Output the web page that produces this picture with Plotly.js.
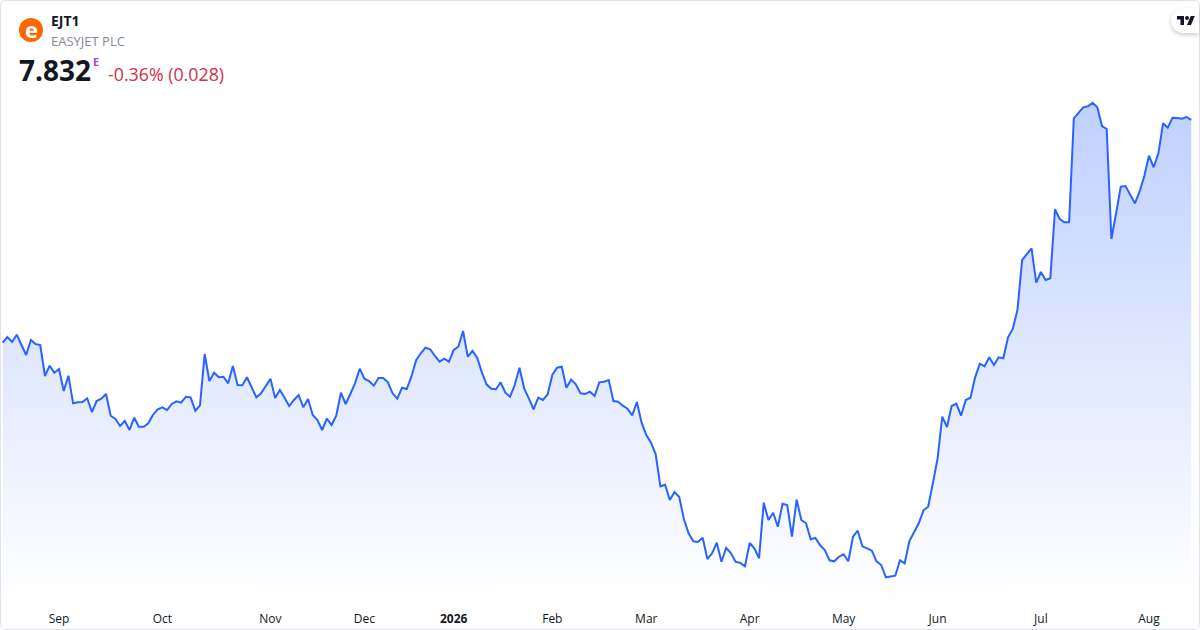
<!DOCTYPE html>
<html>
<head>
<meta charset="utf-8">
<script src="https://cdn.plot.ly/plotly-3.0.1.min.js"></script>
<style>
html,body{margin:0;padding:0;background:#fff;width:1200px;height:630px;overflow:hidden}
#chart{position:absolute;left:0;top:0;width:1200px;height:630px}
#card{position:absolute;left:0;top:0;width:1198px;height:628px;border:1px solid #e0e3eb;border-radius:6px;pointer-events:none}
#tv{position:absolute;left:1171px;top:8px;width:28px;height:25px;background:#fff;border-radius:12.5px 0 0 12.5px;box-shadow:0 2px 4px rgba(0,0,0,.2)}
#tv svg{position:absolute;left:6px;top:6px}
</style>
</head>
<body>
<div id="chart"></div>
<div id="card"></div>
<div id="tv"><svg width="18" height="14" viewBox="0 0 36 28"><path fill="#131722" d="M14 22H7V11H0V4h14v18zM28 22h-8l7.5-18h8L28 22z"/><circle fill="#131722" cx="20" cy="8" r="4"/></svg></div>
<script>
const closes = [
5.603,5.66,5.61,5.683,5.58,5.48,5.63,5.59,5.58,5.27,5.373,5.303,5.34,5.12,5.273,4.997,5.007,5.01,5.047,4.91,
5.02,5.043,5.09,4.873,4.84,4.77,4.82,4.73,4.853,4.763,4.763,4.797,4.883,4.937,4.957,4.93,4.99,5.017,5.003,5.063,
5.057,4.923,4.977,5.49,5.22,5.303,5.257,5.263,5.197,5.37,5.18,5.177,5.257,5.15,5.057,5.097,5.17,5.243,5.05,5.13,
5.053,4.97,5.03,5.08,4.957,5.04,4.88,4.83,4.73,4.843,4.78,4.873,5.103,4.99,5.09,5.197,5.343,5.243,5.22,5.173,
5.25,5.25,5.207,5.097,5.043,5.153,5.14,5.263,5.427,5.497,5.553,5.537,5.47,5.413,5.443,5.413,5.53,5.563,5.72,5.463,
5.52,5.453,5.307,5.187,5.143,5.137,5.207,5.103,5.063,5.18,5.353,5.147,5.047,4.937,5.053,5.03,5.087,5.28,5.353,5.363,
5.153,5.233,5.187,5.097,5.09,5.113,5.07,5.207,5.213,5.23,5.02,5.013,4.973,4.943,4.877,5.01,4.803,4.68,4.603,4.487,
4.167,4.183,4.03,4.11,4.063,3.84,3.697,3.617,3.61,3.653,3.44,3.497,3.603,3.413,3.55,3.5,3.413,3.4,3.367,3.6,
3.547,3.447,4.003,3.83,3.903,3.763,3.993,3.98,3.663,4.033,3.83,3.797,3.637,3.65,3.577,3.53,3.427,3.417,3.463,3.487,
3.417,3.663,3.723,3.567,3.547,3.523,3.417,3.38,3.257,3.263,3.273,3.427,3.397,3.62,3.703,3.797,3.927,3.963,4.197,4.443,
4.863,4.76,4.97,4.993,4.873,5.03,5.053,5.257,5.393,5.367,5.457,5.38,5.457,5.447,5.657,5.74,5.93,6.43,6.488,6.547,
6.203,6.31,6.23,6.247,6.937,6.84,6.807,6.807,7.847,7.903,7.957,7.967,8.003,7.957,7.77,7.74,6.64,6.897,7.163,7.17,
7.09,6.997,7.113,7.27,7.473,7.357,7.497,7.797,7.753,7.853,7.85,7.843,7.86,7.832
];
const tickPositions = [12,34,57,77,96,117,137,159,179,199,221,244];
const tickLabels = ['Sep','Oct','Nov','Dec','<b>2026</b>','Feb','Mar','Apr','May','Jun','Jul','Aug'];
const symbol = 'EJT1';
const company = 'EASYJET PLC';
const lastPrice = '7.832';
const change = '-0.36% (0.028)';

const W = 1200, H = 630, bottom = 30, plotH = H - bottom;
const px = x => x / W;
const py = y => 1 - y / plotH;
const FONT = '"Open Sans", "Noto Sans", sans-serif';
const note = (x, y, text, size, color, extra) => Object.assign({
  xref:'paper', yref:'paper', x:px(x), y:py(y), text, showarrow:false,
  xanchor:'left', yanchor:'middle', align:'left', borderpad:0,
  font:{family:FONT, size, color}
}, extra || {});

const trace = {
  type:'scatter', mode:'lines',
  x: closes.map((_, i) => i), y: closes,
  line:{color:'#2962FF', width:2, shape:'linear'},
  fill:'tozeroy',
  fillgradient:{
    type:'vertical', start:3.03, stop:8.03,
    colorscale:[[0,'rgba(41,98,255,0)'],[1,'rgba(41,98,255,0.3)']]
  },
  hoverinfo:'skip'
};

const layout = {
  width:W, height:H,
  margin:{l:0, r:0, t:0, b:bottom, pad:0},
  paper_bgcolor:'#fff', plot_bgcolor:'#fff',
  showlegend:false,
  xaxis:{
    range:[-0.568, 254.86], showgrid:false, zeroline:false, showline:false,
    tickmode:'array', tickvals:tickPositions, ticktext:tickLabels,
    ticks:'outside', ticklen:8, tickcolor:'rgba(0,0,0,0)',
    tickfont:{family:FONT, size:12, color:'#131722'}, tickangle:0
  },
  yaxis:{range:[3.03, 9.03], showgrid:false, zeroline:false, showline:false, showticklabels:false, ticks:''},
  shapes:[{
    type:'circle', xref:'paper', yref:'paper', layer:'above',
    x0:px(19), x1:px(43), y0:py(42), y1:py(18),
    fillcolor:'#FF6600', line:{width:0}
  }],
  annotations:[
    note(31, 29, '<b>e</b>', 22, '#ffffff', {xanchor:'center'}),
    note(50, 20.5, '<b>'+symbol+'</b>', 14, '#131722'),
    note(50, 40.5, company, 13, '#868993'),
    note(17.5, 70.5, '<b>'+lastPrice+'</b>', 28, '#131722'),
    note(92, 61.5, '<b>E</b>', 11, '#AB47BC'),
    note(107, 74, change, 17.8, '#D1304A')
  ]
};
Plotly.newPlot('chart', [trace], layout, {staticPlot:true, displayModeBar:false});
</script>
</body>
</html>
